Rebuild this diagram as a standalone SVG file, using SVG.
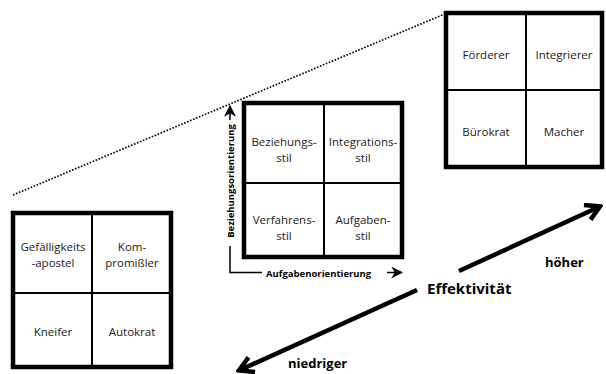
<svg xmlns="http://www.w3.org/2000/svg" width="606" height="374" viewBox="0 0 606 374">
<defs>
<style>
.outer{fill:#fff;stroke:#000;stroke-width:4.5}
.div{stroke:#000;stroke-width:2;fill:none}
.cell{font-family:"Open Sans","Noto Sans",sans-serif;font-size:11.5px;fill:#1a1a1a;text-anchor:middle}
.axis{font-family:"Open Sans","Noto Sans",sans-serif;font-size:9.5px;font-weight:bold;fill:#000}
.big{font-family:"Open Sans","Noto Sans",sans-serif;font-weight:bold;fill:#000}
.thin{stroke:#000;stroke-width:1.5;fill:none}
.thick{stroke:#000;stroke-width:4.5;fill:none}
</style>
<marker id="small" viewBox="0 0 10 10" refX="9" refY="5" markerWidth="12" markerHeight="12" markerUnits="userSpaceOnUse" orient="auto">
<path d="M0,0 L10,5 L0,10 L3,5 Z" fill="#000"/>
</marker>
<marker id="bigHead" viewBox="0 0 20 20" refX="17" refY="10" markerWidth="20" markerHeight="20" markerUnits="userSpaceOnUse" orient="auto">
<path d="M3,2 L17,10 L3,18" fill="none" stroke="#000" stroke-width="4.5" stroke-linejoin="miter"/>
</marker>
</defs>
<rect width="606" height="374" fill="#fff"/>
<g id="connectors">
<line x1="13" y1="195" x2="447" y2="13" stroke="#000" stroke-width="1.7" stroke-dasharray="1.6 1.6"/>
<line class="thick" x1="459" y1="271" x2="600" y2="206.5" marker-end="url(#bigHead)"/>
<line class="thick" x1="417" y1="290" x2="239" y2="370.5" marker-end="url(#bigHead)"/>
<line class="thin" x1="230" y1="120" x2="230" y2="106" marker-end="url(#small)"/>
<polyline class="thin" points="230,246 230,272.5 262,272.5"/>
<line class="thin" x1="387" y1="272.5" x2="402" y2="272.5" marker-end="url(#small)"/>
</g>
<g id="box-low">
<rect class="outer" x="13" y="213" width="158" height="154"/>
<line class="div" x1="92" y1="213" x2="92" y2="367"/>
<line class="div" x1="13" y1="293" x2="171" y2="293"/>
<text class="cell" x="53" y="251">Gefälligkeits</text>
<text class="cell" x="53" y="267">-apostel</text>
<text class="cell" x="132" y="251">Kom-</text>
<text class="cell" x="132" y="267">promißler</text>
<text class="cell" x="53" y="336">Kneifer</text>
<text class="cell" x="132" y="336">Autokrat</text>
</g>
<g id="box-mid">
<rect class="outer" x="244" y="103" width="158" height="154"/>
<line class="div" x1="324" y1="103" x2="324" y2="257"/>
<line class="div" x1="244" y1="183" x2="402" y2="183"/>
<text class="cell" x="284" y="146">Beziehungs-</text>
<text class="cell" x="284" y="162">stil</text>
<text class="cell" x="363" y="146">Integrations-</text>
<text class="cell" x="363" y="162">stil</text>
<text class="cell" x="284" y="224">Verfahrens-</text>
<text class="cell" x="284" y="240">stil</text>
<text class="cell" x="363" y="224">Aufgaben-</text>
<text class="cell" x="363" y="240">stil</text>
</g>
<g id="box-high">
<rect class="outer" x="446" y="13" width="156" height="154"/>
<line class="div" x1="526" y1="13" x2="526" y2="167"/>
<line class="div" x1="446" y1="90" x2="602" y2="90"/>
<text class="cell" x="486" y="59">Förderer</text>
<text class="cell" x="564" y="59">Integrierer</text>
<text class="cell" x="486" y="136">Bürokrat</text>
<text class="cell" x="564" y="136">Macher</text>
</g>
<g id="axis-y">
<text class="axis" transform="translate(233.5,181) rotate(-90)" text-anchor="middle">Beziehungsorientierung</text>
</g>
<g id="axis-x">
<text class="axis" x="266" y="276.5">Aufgabenorientierung</text>
</g>
<g id="effektivitaet">
<text class="big" x="427" y="294" font-size="15">Effektivität</text>
<text class="big" x="545" y="267" font-size="13">höher</text>
<text class="big" x="288" y="368" font-size="13">niedriger</text>
</g>
</svg>
